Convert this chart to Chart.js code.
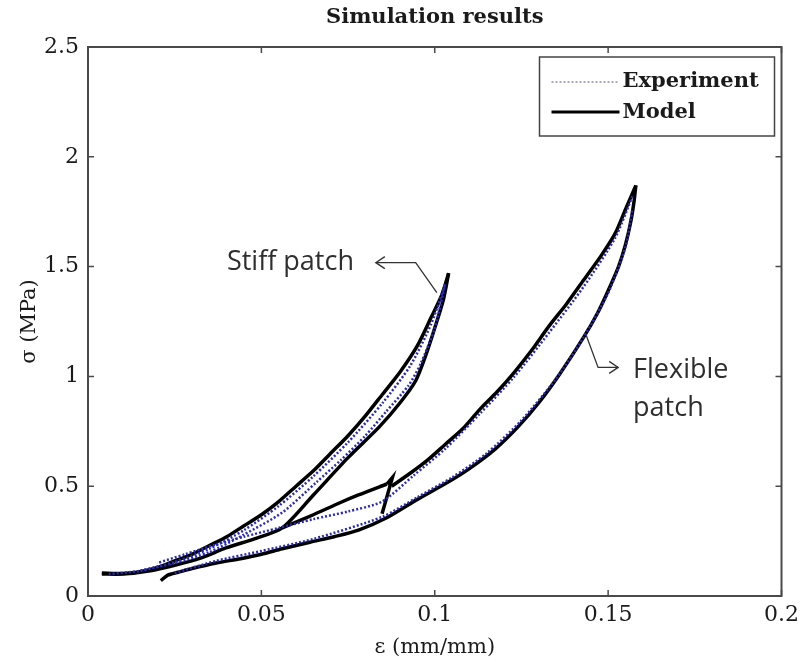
<!DOCTYPE html>
<html lang="en">
<head>
  <meta charset="UTF-8">
  <title>Simulation results</title>
  <script src="https://cdn.jsdelivr.net/npm/chart.js"></script>
  <style>
    body { margin: 0; background: #fff; }
    canvas { display: block; }
  </style>
</head>
<body>
  <canvas id="simChart" width="805" height="663"></canvas>

  <script>
    // tick labels
    const xTickLabels = ['0', '0.05', '0.1', '0.15', '0.2'];
    const yTickLabels = ['0', '0.5', '1', '1.5', '2', '2.5'];

    // model curves [strain, stress]
    const stiffModelLoad = [[0.004,0.105],[0.010,0.102],[0.015,0.11],[0.020,0.13],[0.025,0.16],[0.030,0.19],[0.035,0.23],[0.040,0.27],[0.045,0.32],[0.050,0.37],[0.055,0.43],[0.060,0.50],[0.065,0.57],[0.070,0.65],[0.075,0.73],[0.080,0.82],[0.085,0.92],[0.090,1.02],[0.095,1.14],[0.099,1.27],[0.102,1.37],[0.104,1.47]];
    const stiffModelUnload = [[0.104,1.47],[0.1025,1.35],[0.100,1.22],[0.0975,1.10],[0.0945,0.98],[0.090,0.88],[0.084,0.77],[0.075,0.63],[0.065,0.46],[0.056,0.31],[0.048,0.26],[0.040,0.22],[0.032,0.17],[0.025,0.14],[0.018,0.115],[0.010,0.10],[0.004,0.10]];
    const flexModelUpperLeft = [[0.056,0.31],[0.065,0.37],[0.072,0.42],[0.078,0.46],[0.0862,0.51]];
    const flexModelKink = [[0.0862,0.51],[0.0878,0.54],[0.0848,0.375]];
    const flexModelUpperRight = [[0.158,1.87],[0.155,1.76],[0.152,1.65],[0.148,1.55],[0.143,1.44],[0.138,1.33],[0.133,1.23],[0.128,1.12],[0.123,1.02],[0.118,0.93],[0.113,0.85],[0.108,0.76],[0.103,0.69],[0.098,0.62],[0.093,0.56],[0.0876,0.50]];
    const flexModelLower = [[0.021,0.07],[0.023,0.095],[0.026,0.108],[0.030,0.125],[0.037,0.15],[0.044,0.17],[0.050,0.19],[0.056,0.215],[0.064,0.245],[0.071,0.27],[0.078,0.30],[0.086,0.355],[0.095,0.44],[0.104,0.52],[0.110,0.58],[0.1175,0.67],[0.124,0.77],[0.130,0.88],[0.136,1.01],[0.143,1.18],[0.147,1.29],[0.150,1.39],[0.153,1.50],[0.155,1.60],[0.1566,1.71],[0.1575,1.80],[0.158,1.87]];

    // experiment curves [strain, stress]
    const stiffExpLoad = [[0.006,0.10],[0.015,0.115],[0.025,0.155],[0.035,0.215],[0.045,0.30],[0.055,0.41],[0.065,0.545],[0.075,0.70],[0.085,0.88],[0.093,1.05],[0.099,1.24],[0.103,1.42]];
    const stiffExpUnload = [[0.103,1.42],[0.100,1.22],[0.096,1.06],[0.0925,0.96],[0.086,0.84],[0.080,0.73],[0.073,0.62],[0.066,0.52],[0.056,0.38],[0.045,0.28],[0.035,0.20],[0.025,0.15],[0.015,0.115]];
    const flexExpUpper = [[0.157,1.82],[0.152,1.63],[0.143,1.41],[0.133,1.20],[0.123,1.00],[0.113,0.83],[0.103,0.67],[0.094,0.55],[0.0848,0.43],[0.075,0.385],[0.065,0.35],[0.055,0.31],[0.045,0.27],[0.037,0.235],[0.028,0.19],[0.020,0.15]];
    const flexExpLower = [[0.025,0.105],[0.037,0.16],[0.050,0.205],[0.065,0.26],[0.0848,0.36],[0.095,0.45],[0.105,0.54],[0.115,0.65],[0.125,0.80],[0.135,0.99],[0.143,1.18],[0.150,1.38],[0.155,1.59],[0.157,1.76]];

    const toPts = arr => arr.map(p => ({ x: p[0], y: p[1] }));

    const expStyle = { borderColor: '#2a2ab8', borderWidth: 2.5, borderDash: [2, 2], tension: 0.25 };
    const modelStyle = { borderColor: '#000', borderWidth: 3.5, tension: 0.25 };

    const expSets = [flexExpUpper, flexExpLower, stiffExpLoad, stiffExpUnload]
      .map(a => Object.assign({ label: 'Experiment', data: toPts(a) }, expStyle));
    const modelSets = [stiffModelLoad, stiffModelUnload, flexModelUpperLeft, flexModelUpperRight, flexModelLower]
      .map(a => Object.assign({ label: 'Model', data: toPts(a) }, modelStyle));
    modelSets.push(Object.assign({ label: 'Model', data: toPts(flexModelKink) }, modelStyle, { tension: 0 }));

    const serif = 'DejaVu Serif';

    // frame, inward ticks, title, legend box and annotations
    const decor = {
      id: 'decor',
      afterDraw(chart) {
        const { ctx, chartArea: a, scales: { x, y } } = chart;
        ctx.save();
        ctx.strokeStyle = '#4a4a4a';
        ctx.lineWidth = 2;
        ctx.strokeRect(a.left, a.top, a.right - a.left, a.bottom - a.top);
        ctx.lineWidth = 1.5;
        ctx.beginPath();
        x.ticks.forEach(t => {
          const px = x.getPixelForValue(t.value);
          ctx.moveTo(px, a.bottom); ctx.lineTo(px, a.bottom - 6);
          ctx.moveTo(px, a.top); ctx.lineTo(px, a.top + 6);
        });
        y.ticks.forEach(t => {
          const py = y.getPixelForValue(t.value);
          ctx.moveTo(a.left, py); ctx.lineTo(a.left + 6, py);
          ctx.moveTo(a.right, py); ctx.lineTo(a.right - 6, py);
        });
        ctx.stroke();

        // title
        ctx.fillStyle = '#1a1a1a';
        ctx.font = 'bold 21px "' + serif + '"';
        ctx.textAlign = 'center';
        ctx.textBaseline = 'middle';
        ctx.fillText('Simulation results', (a.left + a.right) / 2, 18);

        // legend
        const lx = a.right - 242, ly = a.top + 10, lw = 235, lh = 79;
        ctx.fillStyle = '#fff';
        ctx.fillRect(lx, ly, lw, lh);
        ctx.strokeStyle = '#444';
        ctx.lineWidth = 1.5;
        ctx.strokeRect(lx, ly, lw, lh);
        ctx.setLineDash([2, 2]);
        ctx.strokeStyle = '#8a8ac0';
        ctx.lineWidth = 1.5;
        ctx.beginPath(); ctx.moveTo(lx + 12, ly + 25); ctx.lineTo(lx + 80, ly + 25); ctx.stroke();
        ctx.setLineDash([]);
        ctx.strokeStyle = '#000';
        ctx.lineWidth = 3;
        ctx.beginPath(); ctx.moveTo(lx + 12, ly + 55); ctx.lineTo(lx + 80, ly + 55); ctx.stroke();
        ctx.fillStyle = '#1a1a1a';
        ctx.font = 'bold 21px "' + serif + '"';
        ctx.textAlign = 'left';
        ctx.fillText('Experiment', lx + 83, ly + 25);
        ctx.fillText('Model', lx + 83, ly + 56);

        // annotations
        const P = (vx, vy) => [x.getPixelForValue(vx), y.getPixelForValue(vy)];
        const arrowHead = (px, py, dir) => {
          ctx.beginPath();
          ctx.moveTo(px + dir * 9, py - 6); ctx.lineTo(px, py); ctx.lineTo(px + dir * 9, py + 6);
          ctx.stroke();
        };
        ctx.strokeStyle = '#333';
        ctx.lineWidth = 1.3;
        let [h1x, h1y] = P(0.0830, 1.518), [c1x, c1y] = P(0.0945, 1.518), [e1x, e1y] = P(0.1006, 1.382);
        ctx.beginPath(); ctx.moveTo(h1x, h1y); ctx.lineTo(c1x, c1y); ctx.lineTo(e1x, e1y); ctx.stroke();
        arrowHead(h1x, h1y, 1);
        let [s2x, s2y] = P(0.1437, 1.186), [c2x, c2y] = P(0.1471, 1.041), [h2x, h2y] = P(0.1529, 1.041);
        ctx.beginPath(); ctx.moveTo(s2x, s2y); ctx.lineTo(c2x, c2y); ctx.lineTo(h2x, h2y); ctx.stroke();
        arrowHead(h2x, h2y, -1);

        ctx.fillStyle = '#2e2e2e';
        ctx.font = '27px "Open Sans"';
        ctx.textAlign = 'right';
        const [t1x, t1y] = P(0.0767, 1.518);
        ctx.fillText('Stiff patch', t1x, t1y);
        ctx.textAlign = 'left';
        const [t2x, t2y] = P(0.1572, 1.027);
        ctx.fillText('Flexible', t2x, t2y);
        const [t3x, t3y] = P(0.1572, 0.855);
        ctx.fillText('patch', t3x, t3y);
        ctx.restore();
      }
    };

    new Chart(document.getElementById('simChart'), {
      type: 'line',
      data: { datasets: expSets.concat(modelSets) },
      options: {
        responsive: false,
        animation: false,
        layout: { padding: { top: 47, right: 20, left: 0, bottom: 0 } },
        elements: { point: { radius: 0 }, line: { fill: false, capBezierPoints: true } },
        plugins: { legend: { display: false }, tooltip: { enabled: false } },
        scales: {
          x: {
            type: 'linear', min: 0, max: 0.2,
            grid: { display: false, drawTicks: false },
            border: { display: false },
            ticks: {
              stepSize: 0.05, padding: 6, color: '#1a1a1a', maxRotation: 0,
              font: { family: serif, size: 22 },
              callback: (v, i) => xTickLabels[i]
            },
            title: {
              display: true, text: 'ε (mm/mm)', color: '#1a1a1a',
              font: { family: serif, size: 21 }, padding: { top: 0, bottom: 3 }
            },
            afterFit: s => { s.height = 67; }
          },
          y: {
            type: 'linear', min: 0, max: 2.5,
            grid: { display: false, drawTicks: false },
            border: { display: false },
            ticks: {
              stepSize: 0.5, padding: 9, color: '#1a1a1a',
              font: { family: serif, size: 22 },
              callback: (v, i) => yTickLabels[i]
            },
            title: {
              display: true, text: 'σ (MPa)', color: '#1a1a1a',
              font: { family: serif, size: 21 }, padding: { top: 17, bottom: 0 }
            },
            afterFit: s => { s.width = 88; }
          }
        }
      },
      plugins: [decor]
    });
  </script>
</body>
</html>
